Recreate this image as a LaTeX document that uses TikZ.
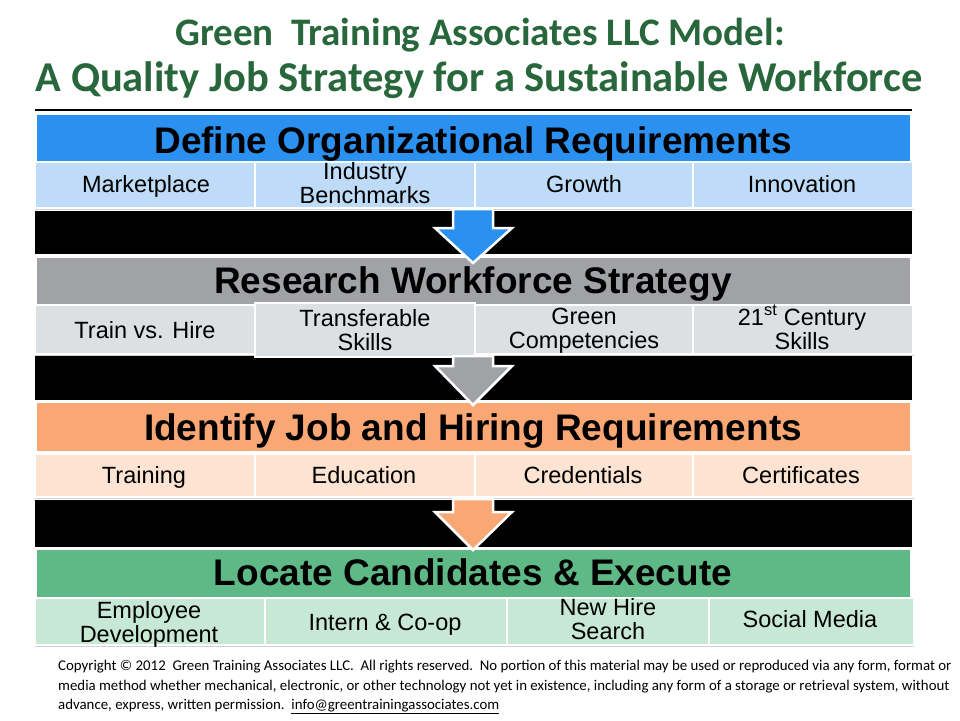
\documentclass[tikz,border=0pt]{standalone}
\usepackage{fontspec}
\setmainfont{Liberation Sans}
\newfontfamily\calib{Carlito}
\definecolor{titlegreen}{RGB}{40,102,60}
\definecolor{hblue}{RGB}{42,145,240}
\definecolor{sblue}{RGB}{190,219,248}
\definecolor{hgray}{RGB}{160,162,165}
\definecolor{sgray}{RGB}{221,224,226}
\definecolor{horange}{RGB}{249,167,117}
\definecolor{sorange}{RGB}{253,228,210}
\definecolor{hgreen}{RGB}{95,185,135}
\definecolor{sgreen}{RGB}{200,232,214}
\begin{document}
\begin{tikzpicture}[x=1pt,y=-1pt,
  titletext/.style={font=\calib\bfseries\fontsize{#1}{44}\selectfont, text=titlegreen, inner sep=0pt, anchor=base},
  headtext/.style={font=\bfseries\fontsize{37}{40}\selectfont, text=black, inner sep=0pt, anchor=base},
  celltext/.style={font=\fontsize{23.5}{24}\selectfont, align=center, inner sep=0pt, text=black, anchor=base},
  blackbar/.style={fill=black},
  cellbox/.style={draw=white, line width=1.2pt},
  shadowbox/.style={fill=black!18},
  blockarrow/.style={draw=white, line width=2.5pt, line join=miter},
  copytext/.style={font=\calib\fontsize{14.85}{19.5}\selectfont, align=left, inner sep=0pt, anchor=north west, text=black}
]
\useasboundingbox (0,0) rectangle (960,720);
\fill[white] (0,0) rectangle (960,720);

% title
\node[titletext=39] (t1) at (480,45) {Green\ \ Training Associates LLC Model:};
\node[titletext=42.5] (t2) at (479,91) {A Quality Job Strategy for a Sustainable Workforce};
\draw[line width=2pt] (35,110) -- (912,110);

% black bars
\fill[blackbar] (35,211) rectangle (912,254);
\fill[blackbar] (35,356) rectangle (912,400);
\fill[blackbar] (35,500) rectangle (912,547);

% band 1
\fill[hblue] (37,115) rectangle (910,161);
\node[headtext] (h1) at (473,153) {Define Organizational Requirements};
\fill[shadowbox] (35,164) rectangle (914,210);
\foreach \a/\b in {35/255,255/475,475/693,693/913}{
  \filldraw[cellbox, fill=sblue] (\a,162) rectangle (\b,208);
}
\node[celltext] (c11) at (146,192) {Marketplace};
\node[celltext] (c12) at (365,203) {Industry\\Benchmarks};
\node[celltext] (c13) at (584,192) {Growth};
\node[celltext] (c14) at (802,192) {Innovation};

% band 2
\fill[hgray] (37,258) rectangle (910,305);
\node[headtext] (h2) at (473,293) {Research Workforce Strategy};
\fill[shadowbox] (35,307) rectangle (914,356);
\filldraw[cellbox, fill=sgray] (35,305) rectangle (255,354);
\filldraw[cellbox, fill=sgray] (475,305) rectangle (693,354);
\filldraw[cellbox, fill=sgray] (693,305) rectangle (913,354);
\filldraw[cellbox, fill=sgray] (255,303) rectangle (475,357);
\node[celltext] (c21) at (145,338) {Train vs. Hire};
\node[celltext] (c22) at (365,350) {Transferable\\Skills};
\node[celltext] (c23) at (584,348) {Green\\Competencies};
\node[celltext] (c24) at (802,349) {21\textsuperscript{st} Century\\Skills};

% band 3
\fill[horange] (37,403) rectangle (910,451);
\node[headtext] (h3) at (473,440) {Identify Job and Hiring Requirements};
\fill[shadowbox] (35,456) rectangle (914,499);
\foreach \a/\b in {35/255,255/475,475/693,693/913}{
  \filldraw[cellbox, fill=sorange] (\a,454) rectangle (\b,497);
}
\node[celltext] (c31) at (144,483) {Training};
\node[celltext] (c32) at (364,483) {Education};
\node[celltext] (c33) at (583,483) {Credentials};
\node[celltext] (c34) at (801,483) {Certificates};

% band 4
\fill[hgreen] (37,550) rectangle (910,598);
\node[headtext] (h4) at (473,585) {Locate Candidates \& Execute};
\fill[shadowbox] (35,601) rectangle (914,647);
\foreach \a/\b in {35/265,265/507,507/709,709/914}{
  \filldraw[cellbox, fill=sgreen] (\a,598) rectangle (\b,645);
}
\node[celltext] (c41) at (149,642) {Employee\\Development};
\node[celltext] (c42) at (385,630) {Intern \& Co-op};
\node[celltext] (c43) at (608,639) {New Hire\\Search};
\node[celltext] (c44) at (810,627) {Social Media};

% block arrows
\filldraw[blockarrow, fill=hblue] (453,209) -- (493,209) -- (493,228) -- (512,228) -- (473,263) -- (435,228) -- (453,228) -- cycle;
\filldraw[blockarrow, fill=hgray] (453,356) -- (493,356) -- (493,366) -- (512,366) -- (473,405) -- (435,366) -- (453,366) -- cycle;
\filldraw[blockarrow, fill=horange] (453,499) -- (493,499) -- (493,512) -- (512,512) -- (473,550) -- (435,512) -- (453,512) -- cycle;

% copyright
\node[copytext] (cp) at (58,660) {Copyright \textcopyright{} 2012\ \ Green Training Associates LLC.\ \ All rights reserved.\ \ No portion of this material may be used or reproduced via any form, format or\\
media method whether mechanical, electronic, or other technology not yet in existence, including any form of a storage or retrieval system, without\\
advance, express, written permission.\ \ \underline{info@greentrainingassociates.com}};
\end{tikzpicture}
\end{document}
